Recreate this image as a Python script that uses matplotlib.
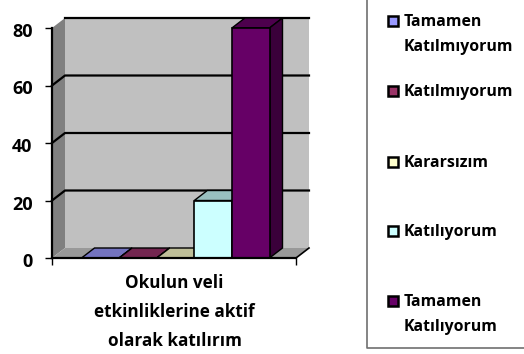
import matplotlib
matplotlib.use('Agg')
import matplotlib.pyplot as plt
from matplotlib.patches import Polygon, Rectangle
from matplotlib.lines import Line2D
from matplotlib.transforms import ScaledTranslation

plt.rcParams['font.family'] = ['Open Sans', 'DejaVu Sans']

labels = ['Tamamen\nKatılmıyorum', 'Katılmıyorum', 'Kararsızım', 'Katılıyorum', 'Tamamen\nKatılıyorum']
values = [0, 0, 0, 20, 80]
colors = ['#9999FF', '#993366', '#FFFFCC', '#CCFFFF', '#660066']
top_colors = ['#7373BF', '#732650', '#BFBF99', '#99BFBF', '#4D004D']
side_colors = ['#4D4D80', '#4D1A33', '#808066', '#668080', '#3A003A']
yticks = [0, 20, 40, 60, 80]
category = 'Okulun veli\netkinliklerine aktif\nolarak katılırım'
legend_y = [21, 91, 162, 231, 301]
legend_text_y = [34.5, 92, 163, 232, 314.5]

W, H = 524, 354
fig = plt.figure(figsize=(W / 100, H / 100), dpi=100)
ax = fig.add_axes([52 / W, (H - 258) / H, 244 / W, 230 / H])
ax.set_xlim(0, 244)
ax.set_ylim(0, 80)
ax.patch.set_visible(False)

# depth of the fake 3d box
dx = 13
dy = 10 * 80 / 230

# walls and floor
ax.add_patch(Polygon([(0, 0), (dx, dy), (dx, 80 + dy), (0, 80)], fc='#808080', ec='none', clip_on=False, zorder=1))
ax.add_patch(Polygon([(dx, dy), (244 + dx, dy), (244 + dx, 80 + dy), (dx, 80 + dy)], fc='#C0C0C0', ec='none', clip_on=False, zorder=1))
ax.add_patch(Polygon([(0, 0), (dx, dy), (244 + dx, dy), (244, 0)], fc='#999999', ec='none', clip_on=False, zorder=1))

for t in yticks[1:-1]:
    ax.plot([0, dx, 244 + dx], [t, t + dy, t + dy], color='black', lw=1.6, clip_on=False, zorder=2)
ax.plot([dx, 244 + dx], [80 + dy, 80 + dy], color='black', lw=1.6, clip_on=False, zorder=2)
ax.plot([244, 244 + dx], [0, dy], color='black', lw=1.2, clip_on=False, zorder=2)

bar_w = 37.6
x0 = 29.5
for i, v in enumerate(values):
    x = x0 + i * bar_w
    ax.add_patch(Polygon([(x, v), (x + dx, v + dy), (x + bar_w + dx, v + dy), (x + bar_w, v)],
                         fc=top_colors[i], ec='black', lw=1.0, clip_on=False, zorder=3 + i))
    ax.add_patch(Polygon([(x + bar_w, 0), (x + bar_w + dx, dy), (x + bar_w + dx, v + dy), (x + bar_w, v)],
                         fc=side_colors[i], ec='black', lw=1.0, clip_on=False, zorder=3 + i))
    ax.bar(x, v, width=bar_w, align='edge', color=colors[i], edgecolor='black', lw=1.2, clip_on=False, zorder=3 + i)

for s in ['top', 'right']:
    ax.spines[s].set_visible(False)
for s in ['left', 'bottom']:
    ax.spines[s].set_linewidth(1.6)
    ax.spines[s].set_zorder(20)
ax.set_yticks(yticks)
ax.set_yticklabels(yticks, fontsize=13, fontweight='bold')
ax.set_xticks([0, 244])
ax.set_xticklabels(['', ''])
ax.tick_params(axis='y', length=5, width=1, pad=9)
ax.tick_params(axis='x', length=5, width=1)
# numbers sit a little below their ticks
shift = ScaledTranslation(0, -2 / 100, fig.dpi_scale_trans)
for lab in ax.get_yticklabels():
    lab.set_transform(lab.get_transform() + shift)

fig.text(174.5 / W, 1 - 312 / H, category, fontsize=12.3, fontweight='bold', ha='center', va='center', linespacing=1.8)

# legend box, top and right run off the picture
fig.add_artist(Line2D([367 / W, 367 / W, 1], [1, 1 - 347.5 / H, 1 - 347.5 / H], color='#707070', lw=1.2))
for i, lab in enumerate(labels):
    fig.add_artist(Rectangle((388 / W, 1 - (legend_y[i] + 5) / H), 10 / W, 10 / H, fc=colors[i], ec='black', lw=1.8,
                             transform=fig.transFigure))
    fig.text(404 / W, 1 - legend_text_y[i] / H, lab, fontsize=11.4, fontweight='bold', ha='left', va='center', linespacing=1.8)

fig.savefig('out.png', dpi=100)
